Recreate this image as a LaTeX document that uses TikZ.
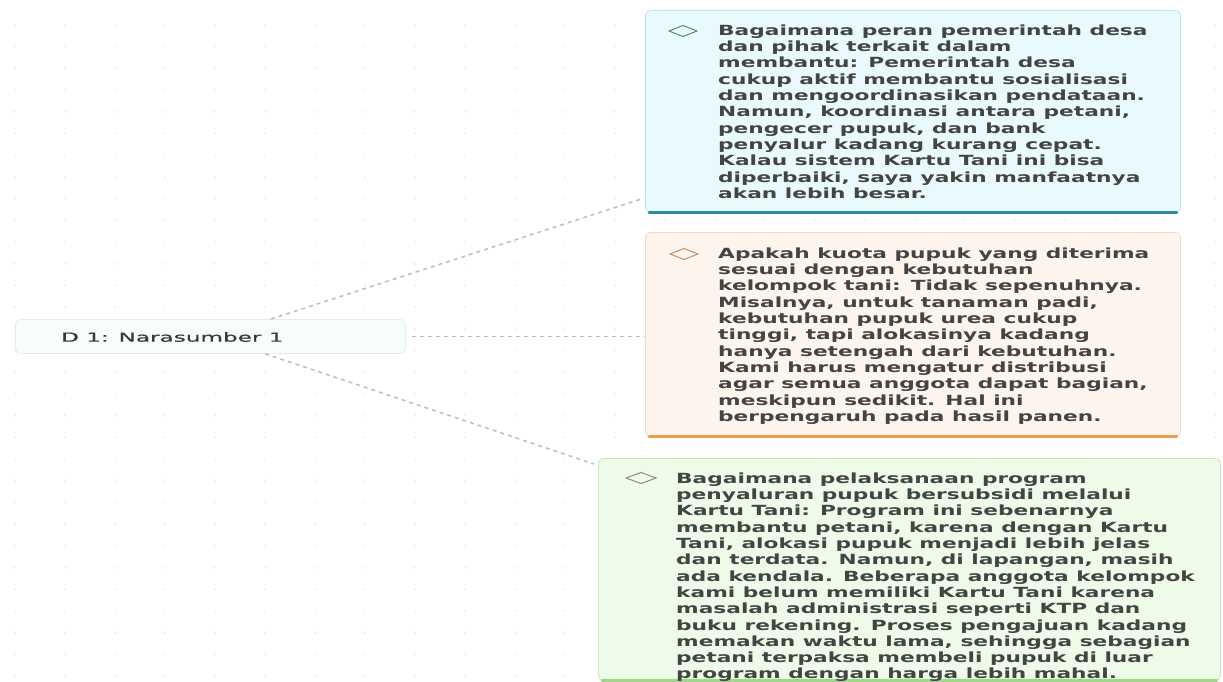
\documentclass[tikz,border=0pt]{standalone}
\usepackage{fontspec}
\usetikzlibrary{calc}
\newfontfamily\boxfont{DejaVu Sans Bold}[FakeStretch=1.55]
\newfontfamily\rootfont{DejaVu Sans}[FakeStretch=1.85,FakeBold=0.6]
\definecolor{txt}{HTML}{444444}
\definecolor{roottxt}{HTML}{383838}
\definecolor{cyanfill}{HTML}{E9FAFD}
\definecolor{cyanline}{HTML}{B5E9F2}
\definecolor{cyanbar}{HTML}{2B8E9E}
\definecolor{orfill}{HTML}{FEF4EE}
\definecolor{orline}{HTML}{F5D9C3}
\definecolor{orbar}{HTML}{EE9B4E}
\definecolor{grfill}{HTML}{EFFBE9}
\definecolor{grline}{HTML}{C6EBB6}
\definecolor{grbar}{HTML}{9ED98A}
\definecolor{rootfill}{HTML}{F7FCFC}
\definecolor{rootline}{HTML}{E3EDED}
\definecolor{connc}{HTML}{BDBDBD}
\tikzset{
  card/.style={rounded corners=5pt, line width=0.8pt, inner sep=0pt, anchor=north west},
  cardtext/.style={font=\boxfont\fontsize{14}{16.3}\selectfont, text=txt, align=left, inner sep=0pt, anchor=north west},
  conn/.style={draw=connc, line width=1.5pt, dash pattern=on 4pt off 4pt},
  bar/.style={line width=2.8pt, line cap=round},
}
\begin{document}
\begin{tikzpicture}[x=1pt,y=-1pt]
\useasboundingbox (0,0) rectangle (1223,682);
\clip (0,0) rectangle (1223,682);
\fill[white] (0,0) rectangle (1223,682);
% faint dot grid
\foreach \x in {15,65,...,1215}
  \foreach \y in {25,46.7,...,680}
    \fill[black!9] (\x,\y) circle (0.9);

% root
\node[card, draw=rootline, fill=rootfill, minimum width=390pt, minimum height=34pt] (root) at (15,319) {};
\node[font=\rootfont\fontsize{12.5}{15}\selectfont, text=roottxt, anchor=west, inner sep=0pt] (rootlbl) at (61,337) {D 1: Narasumber 1};

% box 1
\node[card, draw=cyanline, fill=cyanfill, minimum width=535pt, minimum height=202pt] (b1) at (645,10) {};
\draw[bar, cyanbar] ([xshift=4pt]b1.south west) -- ([xshift=-4pt]b1.south east);
\draw[cyanbar!50!gray, line width=1pt] (683,31) +(-14,0) -- +(0,-5.5) -- +(14,0) -- +(0,5.5) -- cycle;
\node[cardtext] (t1) at (718,24.5) {Bagaimana peran pemerintah desa\\
dan pihak terkait dalam\\
membantu: Pemerintah desa\\
cukup aktif membantu sosialisasi\\
dan mengoordinasikan pendataan.\\
Namun, koordinasi antara petani,\\
pengecer pupuk, dan bank\\
penyalur kadang kurang cepat.\\
Kalau sistem Kartu Tani ini bisa\\
diperbaiki, saya yakin manfaatnya\\
akan lebih besar.};

% box 2
\node[card, draw=orline, fill=orfill, minimum width=535pt, minimum height=204pt] (b2) at (645,232) {};
\draw[bar, orbar] ([xshift=4pt]b2.south west) -- ([xshift=-4pt]b2.south east);
\draw[orbar!60!gray, line width=1pt] (684,254) +(-14,0) -- +(0,-5.5) -- +(14,0) -- +(0,5.5) -- cycle;
\node[cardtext] (t2) at (718,247.5) {Apakah kuota pupuk yang diterima\\
sesuai dengan kebutuhan\\
kelompok tani: Tidak sepenuhnya.\\
Misalnya, untuk tanaman padi,\\
kebutuhan pupuk urea cukup\\
tinggi, tapi alokasinya kadang\\
hanya setengah dari kebutuhan.\\
Kami harus mengatur distribusi\\
agar semua anggota dapat bagian,\\
meskipun sedikit. Hal ini\\
berpengaruh pada hasil panen.};

% box 3
\node[card, draw=grline, fill=grfill, minimum width=622pt, minimum height=222pt] (b3) at (598,458) {};
\draw[bar, grbar] ([xshift=4pt]b3.south west) -- ([xshift=-4pt]b3.south east);
\draw[black!45, line width=1pt] (641,478) +(-15,0) -- +(0,-5.5) -- +(15,0) -- +(0,5.5) -- cycle;
\node[cardtext] (t3) at (676,472.5) {Bagaimana pelaksanaan program\\
penyaluran pupuk bersubsidi melalui\\
Kartu Tani: Program ini sebenarnya\\
membantu petani, karena dengan Kartu\\
Tani, alokasi pupuk menjadi lebih jelas\\
dan terdata. Namun, di lapangan, masih\\
ada kendala. Beberapa anggota kelompok\\
kami belum memiliki Kartu Tani karena\\
masalah administrasi seperti KTP dan\\
buku rekening. Proses pengajuan kadang\\
memakan waktu lama, sehingga sebagian\\
petani terpaksa membeli pupuk di luar\\
program dengan harga lebih mahal.};

% connectors
\coordinate (r1) at ($(root.north west)!0.655!(root.north east)$);
\coordinate (e1) at ($(b1.south west)+(-3,-14)$);
\coordinate (r3) at ($(root.south west)!0.64!(root.south east)$);
\coordinate (e3) at ($(b3.north west)+(-4,6)$);
\draw[conn] (r1) -- (e1);
\draw[conn] ([xshift=6pt]root.east) -- (root.east -| b2.west);
\draw[conn] (r3) -- (e3);
\end{tikzpicture}
\end{document}
